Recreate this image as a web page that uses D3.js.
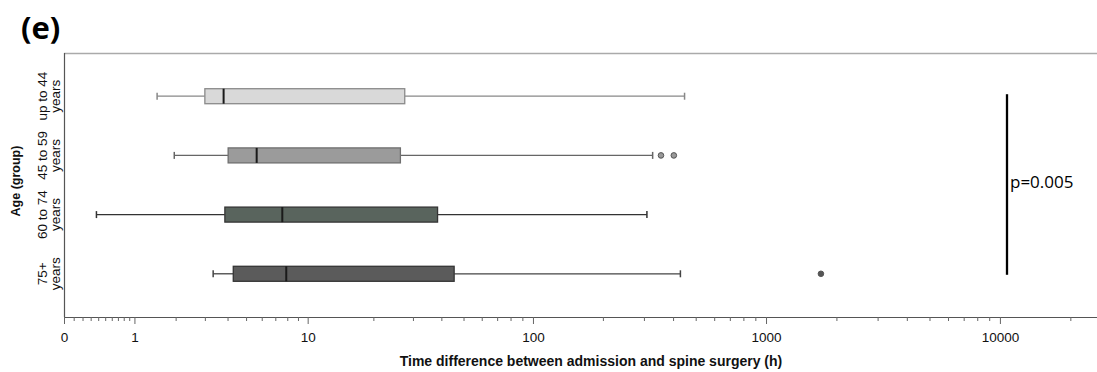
<!DOCTYPE html>
<html>
<head>
<meta charset="utf-8">
<script src="https://cdn.jsdelivr.net/npm/d3@7"></script>
<style>
  html, body { margin: 0; padding: 0; background: #fff; }
  svg { display: block; }
</style>
</head>
<body>
<svg id="chart" width="1097" height="372"></svg>
<script>
// ---- data ----
const categories = ["up to 44 years", "45 to 59 years", "60 to 74 years", "75+ years"];
const categoryLine1 = ["up to 44", "45 to 59", "60 to 74", "75+"];
const categoryLine2 = ["years", "years", "years", "years"];
const whiskerLow  = [1.5, 1.96, 0.376, 3.34];
const q1          = [3.0, 4.03, 3.87, 4.29];
const median      = [3.81, 5.66, 7.57, 7.91];
const q3          = [27.6, 26.4, 38.5, 45.5];
const whiskerHigh = [448, 327, 309, 430];
const outliers    = [[], [355, 403], [], [1717]];
const majorTicks  = [0, 1, 10, 100, 1000, 10000];
const majorTickLabels = ["0", "1", "10", "100", "1000", "10000"];
const minorTicks  = [0.1,0.2,0.3,0.4,0.5,0.6,0.7,0.8,0.9,
                     2,3,4,5,6,7,8,9, 20,30,40,50,60,70,80,90,
                     200,300,400,500,600,700,800,900,
                     2000,3000,4000,5000,6000,7000,8000,9000, 20000];
const pValueText = "p=0.005";

// ---- styles ----
const fills   = ["#d9d9d9", "#9b9b9b", "#59645d", "#5b5b5b"];
const strokes = ["#8a8a8a", "#6f6f6f", "#353535", "#353535"];
const whiskerColors = ["#888888", "#666666", "#333333", "#444444"];
const outlierFill = ["#999", "#999", "#555", "#555"];
const sans = "'Liberation Sans', Arial, sans-serif";

const svg = d3.select("#chart");
const mLeft = 64, mRight = 1097, mTop = 53, mBottom = 317;

const x = d3.scaleSymlog().constant(1).domain([0, 26000]).range([mLeft, mRight]);
const y = d3.scalePoint().domain(categories).range([mTop, mBottom]).padding(0.73);

const boxH = 15, capH = 7;

// frame: top line
svg.append("line").attr("x1", mLeft).attr("x2", mRight).attr("y1", mTop + 0.5).attr("y2", mTop + 0.5)
  .attr("stroke", "#aaaaaa").attr("stroke-width", 1.5);
// y axis line
svg.append("line").attr("x1", mLeft + 0.5).attr("x2", mLeft + 0.5).attr("y1", mTop).attr("y2", mBottom)
  .attr("stroke", "#555").attr("stroke-width", 1.2);

// x axis major
const gMaj = svg.append("g").attr("transform", `translate(0,${mBottom})`)
  .call(d3.axisBottom(x).tickValues(majorTicks).tickSize(7).tickSizeOuter(0)
        .tickFormat((d, i) => majorTickLabels[i]));
gMaj.select(".domain").attr("stroke", "#555").attr("stroke-width", 1.2);
gMaj.selectAll(".tick line").attr("stroke", "#666");
gMaj.selectAll(".tick text").attr("font-family", sans)
  .attr("font-size", 13.5).attr("fill", "#111").attr("dy", null).attr("y", 25);
// x axis minor
const gMin = svg.append("g").attr("transform", `translate(0,${mBottom})`)
  .call(d3.axisBottom(x).tickValues(minorTicks).tickSize(4).tickSizeOuter(0).tickFormat(""));
gMin.select(".domain").remove();
gMin.selectAll(".tick line").attr("stroke", "#666");

// boxes
categories.forEach((c, i) => {
  const cy = y(c);
  const g = svg.append("g");
  g.append("line").attr("x1", x(whiskerLow[i])).attr("x2", x(q1[i])).attr("y1", cy).attr("y2", cy)
    .attr("stroke", whiskerColors[i]).attr("stroke-width", 1.3);
  g.append("line").attr("x1", x(q3[i])).attr("x2", x(whiskerHigh[i])).attr("y1", cy).attr("y2", cy)
    .attr("stroke", whiskerColors[i]).attr("stroke-width", 1.3);
  [whiskerLow[i], whiskerHigh[i]].forEach(v => {
    g.append("line").attr("x1", x(v)).attr("x2", x(v)).attr("y1", cy - capH / 2).attr("y2", cy + capH / 2)
      .attr("stroke", whiskerColors[i]).attr("stroke-width", 1.5);
  });
  g.append("rect").attr("x", x(q1[i])).attr("y", cy - boxH / 2)
    .attr("width", x(q3[i]) - x(q1[i])).attr("height", boxH)
    .attr("fill", fills[i]).attr("stroke", strokes[i]).attr("stroke-width", 1.3);
  g.append("line").attr("x1", x(median[i])).attr("x2", x(median[i]))
    .attr("y1", cy - boxH / 2).attr("y2", cy + boxH / 2)
    .attr("stroke", "#1a1a1a").attr("stroke-width", 2);
  outliers[i].forEach(v => {
    g.append("circle").attr("cx", x(v)).attr("cy", cy).attr("r", 2.8)
      .attr("fill", outlierFill[i]).attr("stroke", "#555").attr("stroke-width", 1);
  });
  const t = svg.append("text")
    .attr("transform", `translate(0,${cy}) rotate(-90)`)
    .attr("text-anchor", "middle")
    .attr("font-family", sans)
    .attr("font-size", 13.5).attr("fill", "#111");
  t.append("tspan").attr("x", 0).attr("y", 47).text(categoryLine1[i]);
  t.append("tspan").attr("x", 0).attr("y", 60).text(categoryLine2[i]);
});

// y axis title
svg.append("text").attr("transform", `translate(20,181) rotate(-90)`)
  .attr("text-anchor", "middle").attr("font-family", sans)
  .attr("font-size", 12.5).attr("font-weight", "bold").attr("fill", "#111").text("Age (group)");

// x axis title
svg.append("text").attr("x", 591).attr("y", 366).attr("text-anchor", "middle")
  .attr("font-family", sans)
  .attr("font-size", 14).attr("font-weight", "bold").attr("fill", "#111")
  .text("Time difference between admission and spine surgery (h)");

// panel label
svg.append("text").attr("x", 21).attr("y", 39)
  .attr("font-family", "'Open Sans', sans-serif").attr("font-size", 31).attr("font-weight", "bold")
  .attr("fill", "#000").text("(e)");

// significance bracket
svg.append("line").attr("x1", 1007).attr("x2", 1007)
  .attr("y1", y(categories[0]) - 2).attr("y2", y(categories[3]) + 1)
  .attr("stroke", "#000").attr("stroke-width", 2.3);
svg.append("text").attr("x", 1010).attr("y", 188)
  .attr("font-family", "'Open Sans', sans-serif").attr("font-size", 17).attr("fill", "#000")
  .text(pValueText);
</script>
</body>
</html>
